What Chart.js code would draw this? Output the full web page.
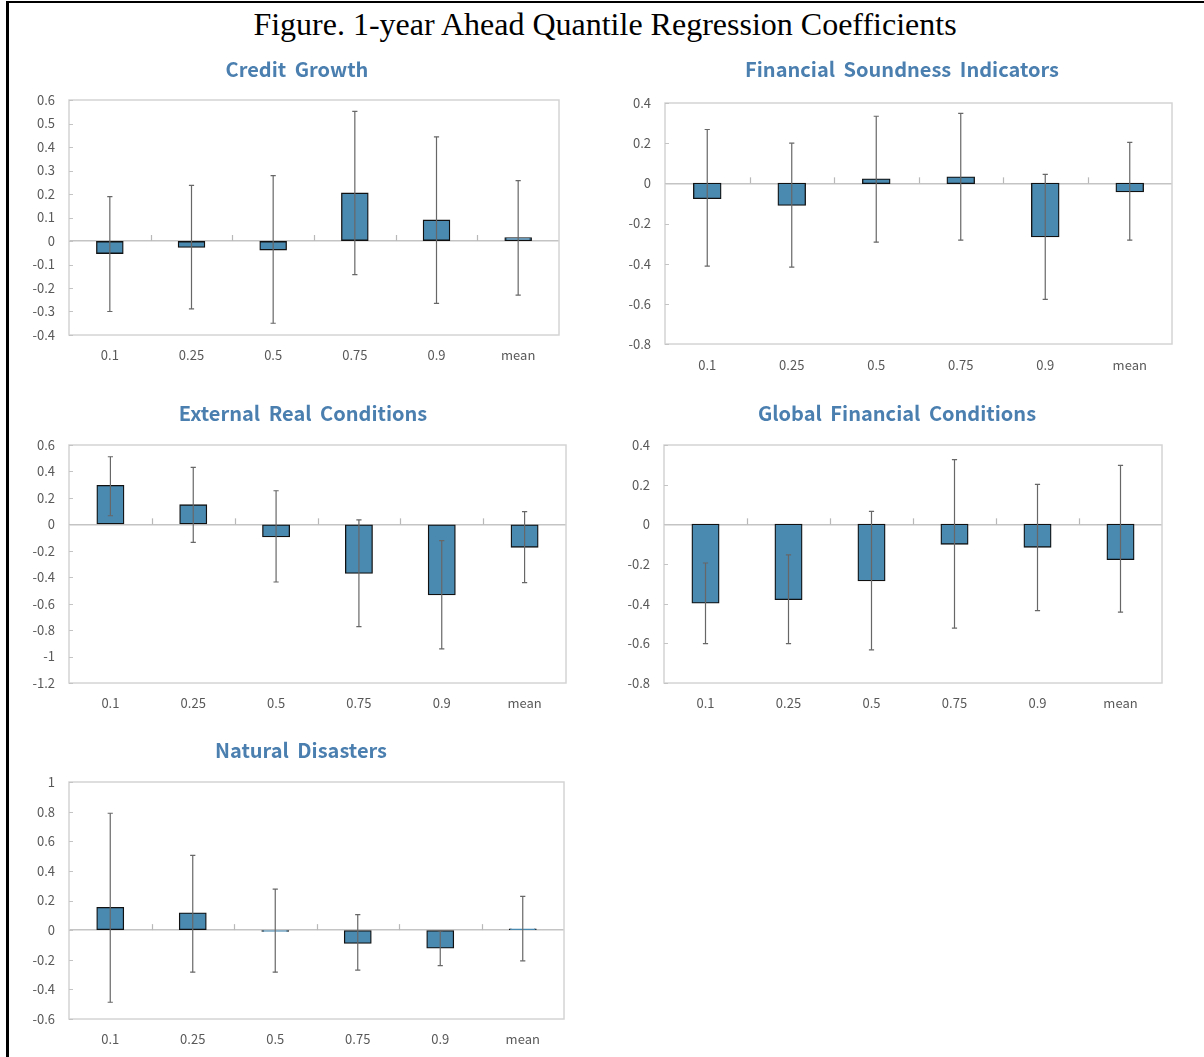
<!DOCTYPE html>
<html>
<head>
<meta charset="utf-8">
<script src="https://cdn.jsdelivr.net/npm/chart.js@4/dist/chart.umd.min.js"></script>
<style>
  html, body { margin: 0; padding: 0; background: #fff; }
  body { width: 1204px; height: 1057px; position: relative; overflow: hidden; }
  #bl { position: absolute; left: 6px; top: 1px; width: 2.5px; height: 1060px; background: #000; }
  #bt { position: absolute; left: 6px; top: 1px; width: 1200px; height: 2px; background: #000; }
  #main { position: absolute; left: 0; width: 1210px; top: 4px; text-align: center;
          font-family: "Liberation Serif", "Times New Roman", serif; font-size: 32px; color: #000; line-height: 40px; }
  .ptitle { position: absolute; width: 600px; text-align: center; font-family: "Noto Sans CJK KR", "Noto Sans", sans-serif;
            font-weight: bold; font-size: 20px; word-spacing: 4px; color: #4a7fb0; line-height: 24px; }
  .box { position: absolute; }
</style>
</head>
<body>
<div id="bl"></div><div id="bt"></div>
<div id="main">Figure. 1-year Ahead Quantile Regression Coefficients</div>

<script>
// ---------------- data ----------------
const categories = ['0.1', '0.25', '0.5', '0.75', '0.9', 'mean'];

const creditTitle = 'Credit Growth';
const creditCoef = [-0.052, -0.026, -0.037, 0.203, 0.088, 0.013];
const creditLow  = [-0.300, -0.289, -0.350, -0.143, -0.265, -0.230];
const creditHigh = [0.189, 0.237, 0.278, 0.552, 0.443, 0.257];
const creditTicks = { min: -0.4, max: 0.6, step: 0.1 };

const fsiTitle = 'Financial Soundness Indicators';
const fsiCoef = [-0.075, -0.108, 0.021, 0.031, -0.265, -0.041];
const fsiLow  = [-0.412, -0.417, -0.293, -0.283, -0.578, -0.283];
const fsiHigh = [0.268, 0.200, 0.334, 0.348, 0.045, 0.204];
const fsiTicks = { min: -0.8, max: 0.4, step: 0.2 };

const extTitle = 'External Real Conditions';
const extCoef = [0.292, 0.146, -0.093, -0.368, -0.531, -0.171];
const extLow  = [0.065, -0.136, -0.436, -0.773, -0.942, -0.441];
const extHigh = [0.511, 0.431, 0.254, 0.033, -0.123, 0.096];
const extTicks = { min: -1.2, max: 0.6, step: 0.2 };

const gfcTitle = 'Global Financial Conditions';
const gfcCoef = [-0.396, -0.378, -0.284, -0.099, -0.114, -0.176];
const gfcLow  = [-0.601, -0.601, -0.633, -0.523, -0.435, -0.443];
const gfcHigh = [-0.195, -0.154, 0.065, 0.326, 0.201, 0.297];
const gfcTicks = { min: -0.8, max: 0.4, step: 0.2 };

const natTitle = 'Natural Disasters';
const natCoef = [0.151, 0.115, -0.007, -0.088, -0.119, 0.007];
const natLow  = [-0.487, -0.284, -0.284, -0.270, -0.239, -0.207];
const natHigh = [0.789, 0.505, 0.277, 0.104, -0.005, 0.228];
const natTicks = { min: -0.6, max: 1.0, step: 0.2 };

// ---------------- drawing ----------------
const BAR_FILL = '#4a89b0';
const BAR_EDGE = '#111111';
const ERR_COL = '#676767';
const AXIS_COL = '#c4c4c4';
const FRAME_COL = '#d4d4d4';
const TICK_COL = '#595959';
const FONT = '"Noto Sans CJK KR", "Noto Sans", sans-serif';

const framePlugin = {
  id: 'framePlugin',
  beforeDatasetsDraw(chart) {
    const { ctx, chartArea: a, scales } = chart;
    const y = scales.y, x = scales.x;
    ctx.save();
    ctx.strokeStyle = FRAME_COL;
    ctx.lineWidth = 1.5;
    ctx.strokeRect(a.left, a.top, a.right - a.left, a.bottom - a.top);
    ctx.strokeStyle = AXIS_COL;
    ctx.lineWidth = 1;
    y.ticks.forEach(t => {
      const py = Math.round(y.getPixelForValue(t.value)) + 0.5;
      ctx.beginPath(); ctx.moveTo(a.left, py); ctx.lineTo(a.left + 4, py); ctx.stroke();
    });
    const y0 = y.getPixelForValue(0);
    ctx.strokeStyle = '#b8b8b8';
    ctx.lineWidth = 1.2;
    for (let i = 0; i < x.ticks.length - 1; i++) {
      const px = Math.round((x.getPixelForTick(i) + x.getPixelForTick(i + 1)) / 2) + 0.5;
      ctx.beginPath(); ctx.moveTo(px, y0); ctx.lineTo(px, y0 - 6); ctx.stroke();
    }
    ctx.restore();
  }
};

function fmt(v) {
  const r = Math.round(v * 100) / 100;
  return (Math.abs(r) < 1e-9 ? 0 : r).toString();
}

function makePanel(title, coef, low, high, tk, frame, titlePos, labPad) {
  const padL = 62, padT = 24, padR = 14, xH = 44;
  const box = document.createElement('div');
  box.className = 'box';
  const w = frame.r - frame.l + padL + padR;
  const h = frame.b - frame.t + padT + xH;
  box.style.left = (frame.l - padL) + 'px';
  box.style.top = (frame.t - padT) + 'px';
  box.style.width = w + 'px';
  box.style.height = h + 'px';
  const cv = document.createElement('canvas');
  box.appendChild(cv);
  document.body.appendChild(box);

  const tt = document.createElement('div');
  tt.className = 'ptitle';
  tt.textContent = title;
  tt.style.left = (titlePos.x - 300) + 'px';
  tt.style.top = (titlePos.y - 12) + 'px';
  document.body.appendChild(tt);

  const errRange = low.map((l, i) => [l, high[i]]);

  new Chart(cv, {
    data: {
      labels: categories,
      datasets: [
        { type: 'line', data: high, showLine: false, pointStyle: 'line', pointRadius: 2.6,
          pointBorderWidth: 1.2, pointBorderColor: ERR_COL, pointBackgroundColor: ERR_COL, order: 0 },
        { type: 'line', data: low, showLine: false, pointStyle: 'line', pointRadius: 2.6,
          pointBorderWidth: 1.2, pointBorderColor: ERR_COL, pointBackgroundColor: ERR_COL, order: 0 },
        { type: 'bar', data: errRange, backgroundColor: ERR_COL, borderWidth: 0,
          barThickness: 1.2, grouped: false, inflateAmount: 0, order: 1 },
        { type: 'bar', data: coef, backgroundColor: BAR_FILL, borderColor: BAR_EDGE, borderWidth: 1.3,
          borderSkipped: false, inflateAmount: 0.7, barPercentage: 0.32, categoryPercentage: 1,
          grouped: false, order: 2 }
      ]
    },
    options: {
      responsive: true,
      maintainAspectRatio: false,
      animation: false,
      events: [],
      layout: { padding: { top: padT, right: padR, left: 0, bottom: 0 } },
      plugins: { legend: { display: false }, tooltip: { enabled: false } },
      scales: {
        x: {
          type: 'category',
          offset: true,
          grid: { display: false, drawTicks: false },
          border: { display: false },
          ticks: { color: TICK_COL, font: { family: FONT, size: 13 }, padding: labPad, maxRotation: 0, autoSkip: false },
          afterFit(s) { s.height = xH; }
        },
        y: {
          min: tk.min, max: tk.max,
          grid: {
            drawTicks: false,
            lineWidth: 1.6,
            color: c => (c.tick && Math.abs(c.tick.value) < 1e-9) ? AXIS_COL : 'rgba(0,0,0,0)'
          },
          border: { display: false },
          ticks: { stepSize: tk.step, color: TICK_COL, font: { family: FONT, size: 13 }, padding: 14,
                   callback: v => fmt(v) },
          afterFit(s) { s.width = padL; }
        }
      }
    },
    plugins: [framePlugin]
  });
}

makePanel(creditTitle, creditCoef, creditLow, creditHigh, creditTicks,
          { l: 69, t: 100, r: 559, b: 335 }, { x: 297, y: 69 }, 12);
makePanel(fsiTitle, fsiCoef, fsiLow, fsiHigh, fsiTicks,
          { l: 665, t: 103, r: 1172, b: 344 }, { x: 902, y: 69 }, 13);
makePanel(extTitle, extCoef, extLow, extHigh, extTicks,
          { l: 69, t: 445, r: 566, b: 683 }, { x: 303, y: 413 }, 12);
makePanel(gfcTitle, gfcCoef, gfcLow, gfcHigh, gfcTicks,
          { l: 664, t: 445, r: 1162, b: 683 }, { x: 897, y: 413 }, 12);
makePanel(natTitle, natCoef, natLow, natHigh, natTicks,
          { l: 69, t: 782, r: 564, b: 1019 }, { x: 301, y: 750 }, 12);
</script>
</body>
</html>
